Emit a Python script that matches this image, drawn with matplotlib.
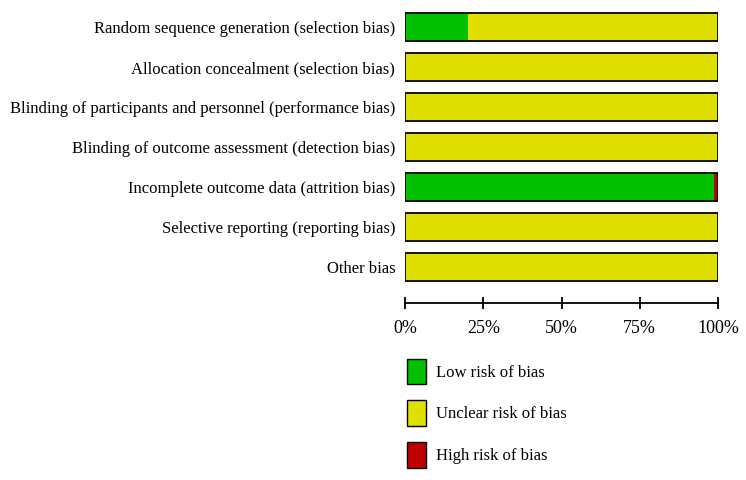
import numpy as np
import matplotlib
matplotlib.use("Agg")
import matplotlib.pyplot as plt
from matplotlib.patches import Patch

plt.rcParams['font.family'] = ['Liberation Serif', 'DejaVu Serif']

domains = ["Random sequence generation (selection bias)",
           "Allocation concealment (selection bias)",
           "Blinding of participants and personnel (performance bias)",
           "Blinding of outcome assessment (detection bias)",
           "Incomplete outcome data (attrition bias)",
           "Selective reporting (reporting bias)",
           "Other bias"]
low_risk = [20, 0, 0, 0, 98.7, 0, 0]
unclear_risk = [80, 100, 100, 100, 0, 100, 100]
high_risk = [0, 0, 0, 0, 1.3, 0, 0]

pct_ticks = [0, 25, 50, 75, 100]
pct_labels = ["0%", "25%", "50%", "75%", "100%"]
legend_labels = ["Low risk of bias", "Unclear risk of bias", "High risk of bias"]
colors = ["#00C000", "#E0E000", "#C00000"]

W, H = 746, 480
fs = 12
fig = plt.figure(figsize=(W/100, H/100), dpi=100)
# axes in pixel coords: left 405, right 718, top 7, bottom 287
ax = fig.add_axes([405/W, 1-287/H, (718-405)/W, 280/H])

y = np.arange(len(domains))
left = np.zeros(len(domains))
for vals, c in zip([low_risk, unclear_risk, high_risk], colors):
    vals = np.array(vals)
    ax.barh(y, vals, left=left, height=0.7, color=c, edgecolor='none')
    left = left + vals
# outline around each full bar
ax.barh(y, left, height=0.7, facecolor='none', edgecolor='black', linewidth=1.3)

ax.set_ylim(len(domains)-0.5, -0.5)
ax.set_xlim(0, 100)
ax.set_yticks(y)
ax.set_yticklabels(domains, fontsize=fs)
ax.tick_params(axis='y', length=0, pad=7)
ax.set_xticks(pct_ticks)
ax.set_xticklabels(pct_labels)
ax.tick_params(axis='x', direction='inout', length=9, width=1.3, pad=8, labelsize=13)
for lab in ax.get_xticklabels():
    lab.set_fontfamily(['Liberation Serif', 'DejaVu Serif'])
    lab.set_fontsize(13)
for s in ['top', 'right', 'left']:
    ax.spines[s].set_visible(False)
ax.spines['bottom'].set_position(('outward', 11.5))
ax.spines['bottom'].set_linewidth(1.3)

handles = [Patch(facecolor=c, edgecolor='black', linewidth=1.0) for c in colors]
fig.legend(handles, legend_labels, loc='upper left',
           bbox_to_anchor=(400/W, 1-352/H), frameon=False, fontsize=fs,
           handlelength=1.14, handleheight=2.0, labelspacing=0.95,
           handletextpad=0.6, borderaxespad=0)

fig.savefig("out.png", dpi=100)
